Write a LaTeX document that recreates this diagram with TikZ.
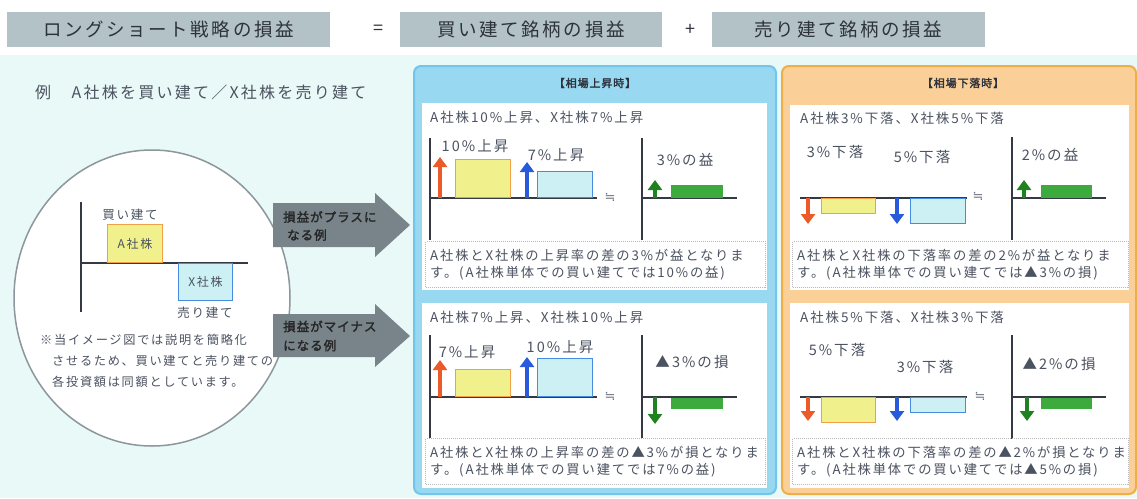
\documentclass[tikz,border=0pt]{standalone}
\usepackage{fontspec}
\setmainfont{Noto Sans CJK JP}[LetterSpace=14]
\newfontfamily\jpheavy{Noto Sans CJK JP}[LetterSpace=8,FakeBold=2]
\newfontfamily\symfont{DejaVu Sans}
\usetikzlibrary{arrows.meta,shapes.geometric}
\definecolor{ink}{RGB}{75,82,96}
\definecolor{headink}{RGB}{45,50,60}
\definecolor{headgray}{RGB}{178,194,198}
\definecolor{bgcyan}{RGB}{232,249,247}
\definecolor{lensgray}{RGB}{140,150,156}
\definecolor{blockgray}{RGB}{120,132,138}
\definecolor{blueline}{RGB}{115,198,235}
\definecolor{bluefill}{RGB}{152,216,240}
\definecolor{orangeline}{RGB}{240,175,70}
\definecolor{orangefill}{RGB}{250,207,152}
\definecolor{buyfill}{RGB}{240,240,140}
\definecolor{buyline}{RGB}{240,160,70}
\definecolor{sellfill}{RGB}{205,240,245}
\definecolor{sellline}{RGB}{70,140,225}
\definecolor{buyarrow}{RGB}{235,90,40}
\definecolor{sellarrow}{RGB}{40,90,220}
\definecolor{gainarrow}{RGB}{30,130,30}
\definecolor{gainfill}{RGB}{60,170,60}
\newcommand{\fsz}[2]{\fontsize{#1}{#2}\selectfont}
\tikzset{
  /tikz/.cd,
  bar/.style={minimum width=55pt,inner sep=0pt,line width=1pt},
  buybar/.style={bar,fill=buyfill,draw=buyline},
  sellbar/.style={bar,fill=sellfill,draw=sellline},
  gainbar/.style={bar,fill=gainfill,minimum width=52pt},
  movearrow/.style={line width=4.5pt,-{Triangle[width=14pt,length=10pt]}},
  axis/.style={draw=ink!70!black,line width=1.2pt},
  barlbl/.style={text=ink,inner sep=0pt,font=\fsz{14.5}{15}},
  subttl/.style={text=ink,inner sep=0pt,anchor=west,font=\fsz{13.5}{14}},
  notetxt/.style={text=ink,inner sep=0pt,anchor=west,align=left,font=\fsz{13.3}{17}},
  approx/.style={text=ink!80,font=\symfont\fsz{13}{13}}
}
\begin{document}
\begin{tikzpicture}[x=1pt,y=-1pt,
    headbox/.style={fill=headgray,minimum height=35pt,inner sep=0pt,text=headink,font=\fsz{18.5}{20}},
    sheet/.style={fill=white,anchor=north west,inner sep=0pt},
    notebox/.style={fill=white,draw=gray!55,densely dotted,line width=1pt,anchor=north west,inner sep=0pt}]
  \useasboundingbox (0,0) rectangle (1137,498);
  \fill[white] (0,0) rectangle (1137,55);
  \fill[bgcyan] (0,55) rectangle (1137,498);

  \node[headbox,minimum width=323pt] (hLS) at (168.5,29.5) {ロングショート戦略の損益};
  \node[text=headink,font=\fsz{18}{20}] (hEq) at (378,30) {=};
  \node[headbox,minimum width=262pt] (hBuy) at (531,29.5) {買い建て銘柄の損益};
  \node[text=headink,font=\fsz{18}{20}] (hPlus) at (690,30) {+};
  \node[headbox,minimum width=273pt] (hSell) at (848.5,29.5) {売り建て銘柄の損益};

  \node[text=ink,inner sep=0pt,anchor=west,font=\fsz{16}{18}] (exTtl) at (35,92) {例　A社株を買い建て／X社株を売り建て};

  \node[ellipse,draw=lensgray,line width=1.5pt,fill=white,minimum width=276pt,minimum height=296pt] (lens) at (152,298) {};
  \draw[axis] (81,202) -- (81,312);
  \draw[axis] (81,263) -- (248,263);
  \node[buybar,anchor=south west,minimum height=38pt,text=ink,font=\fsz{12}{12}] (aBox) at (107,263) {A社株};
  \node[sellbar,anchor=north west,minimum height=37pt,minimum width=54pt,text=ink,font=\fsz{12}{12}] (xBox) at (178,263) {X社株};
  \node[text=ink,inner sep=0pt,font=\fsz{12.5}{13}] (aLbl) at (130,215) {買い建て};
  \node[text=ink,inner sep=0pt,font=\fsz{12.5}{13}] (xLbl) at (205,313) {売り建て};
  \node[text=ink,inner sep=0pt,anchor=north west,align=left,font=\fsz{12.2}{21}] (lensNote) at (40,334)
    {※当イメージ図では説明を簡略化\\\hspace{12pt}させるため、買い建てと売り建ての\\\hspace{12pt}各投資額は同額としています。};

  \fill[blockgray] (273,203) -- (375,203) -- (375,193) -- (410,225) -- (375,257) -- (375,247) -- (273,247) -- cycle;
  \node[text=black!85,inner sep=0pt,anchor=west,align=left,font=\jpheavy\fsz{12.5}{18}] (plusTag) at (283,226) {損益がプラスに\\\hspace{4pt}なる例};
  \fill[blockgray] (273,314) -- (375,314) -- (375,304) -- (410,336) -- (375,367) -- (375,357) -- (273,357) -- cycle;
  \node[text=black!85,inner sep=0pt,anchor=west,align=left,font=\jpheavy\fsz{12.5}{19}] (minusTag) at (283,336) {損益がマイナス\\になる例};

  \node[draw=blueline,fill=bluefill,rounded corners=7pt,line width=2pt,minimum width=362pt,minimum height=428pt,anchor=north west] (upPanel) at (413,65) {};
  \node[text=headink,font=\jpheavy\fsz{11}{12}] (upTtl) at (595,83) {【相場上昇時】};
  \node[sheet,minimum width=345pt,minimum height=187pt] (upA) at (422,103) {};
  \node[sheet,minimum width=345pt,minimum height=185pt] (upB) at (422,303) {};

  \node[draw=orangeline,fill=orangefill,rounded corners=7pt,line width=2pt,minimum width=354pt,minimum height=428pt,anchor=north west] (downPanel) at (781,65) {};
  \node[text=headink,font=\jpheavy\fsz{11}{12}] (downTtl) at (963,83) {【相場下落時】};
  \node[sheet,minimum width=339pt,minimum height=185pt] (downA) at (790,105) {};
  \node[sheet,minimum width=339pt,minimum height=185pt] (downB) at (790,303) {};

  % 上昇時：A社株10%上昇、X社株7%上昇
  \node[subttl] (upAttl) at (430,117) {A社株10\%上昇、X社株7\%上昇};
  \draw[axis] (430,138) -- (430,240);
  \draw[axis] (430,198) -- (597,198);
  \draw[axis] (642,138) -- (642,240);
  \draw[axis] (642,198) -- (737,198);
  \node[buybar,anchor=south west,minimum height=38pt] (upAbuy) at (455,198) {};
  \node[sellbar,anchor=south west,minimum height=26pt] (upAsell) at (537,198) {};
  \node[gainbar,anchor=south west,minimum height=13pt] (upAnet) at (670,198) {};
  \coordinate (upAb0) at (440,198); \coordinate (upAb1) at (440,157);
  \coordinate (upAs0) at (527,198); \coordinate (upAs1) at (527,162);
  \coordinate (upAn0) at (655,198); \coordinate (upAn1) at (655,180);
  \draw[movearrow,buyarrow] (upAb0) -- (upAb1);
  \draw[movearrow,sellarrow] (upAs0) -- (upAs1);
  \draw[movearrow,gainarrow] (upAn0) -- (upAn1);
  \node[barlbl] (upAbuyL) at (475,146) {10\%上昇};
  \node[barlbl] (upAsellL) at (556,155) {7\%上昇};
  \node[barlbl] (upAnetL) at (685,160) {3\%の益};
  \node[approx] (upAeq) at (610,197) {≒};
  \node[notebox,minimum width=340pt,minimum height=46pt] (upAbox) at (425,241) {};
  \node[notetxt] (upAnote) at (430,265) {A社株とX社株の上昇率の差の3\%が益となりま\\す。(A社株単体での買い建てでは10\%の益)};

  % 上昇時：A社株7%上昇、X社株10%上昇
  \node[subttl] (upBttl) at (430,317) {A社株7\%上昇、X社株10\%上昇};
  \draw[axis] (430,335) -- (430,438);
  \draw[axis] (430,397) -- (597,397);
  \draw[axis] (642,335) -- (642,438);
  \draw[axis] (642,397) -- (737,397);
  \node[buybar,anchor=south west,minimum height=27pt] (upBbuy) at (455,397) {};
  \node[sellbar,anchor=south west,minimum height=38pt] (upBsell) at (537,397) {};
  \node[gainbar,anchor=north west,minimum height=11pt] (upBnet) at (670,397) {};
  \coordinate (upBb0) at (440,397); \coordinate (upBb1) at (440,360);
  \coordinate (upBs0) at (527,397); \coordinate (upBs1) at (527,357);
  \coordinate (upBn0) at (655,397); \coordinate (upBn1) at (655,424);
  \draw[movearrow,buyarrow] (upBb0) -- (upBb1);
  \draw[movearrow,sellarrow] (upBs0) -- (upBs1);
  \draw[movearrow,gainarrow] (upBn0) -- (upBn1);
  \node[barlbl] (upBbuyL) at (467,352) {7\%上昇};
  \node[barlbl] (upBsellL) at (560,347) {10\%上昇};
  \node[barlbl] (upBnetL) at (692,362) {▲3\%の損};
  \node[approx] (upBeq) at (610,396) {≒};
  \node[notebox,minimum width=340pt,minimum height=46pt] (upBbox) at (425,438) {};
  \node[notetxt] (upBnote) at (430,462) {A社株とX社株の上昇率の差の▲3\%が損となりま\\す。(A社株単体での買い建てでは7\%の益)};

  % 下落時：A社株3%下落、X社株5%下落
  \node[subttl] (downAttl) at (800,118) {A社株3\%下落、X社株5\%下落};
  \draw[axis] (800,198) -- (967,198);
  \draw[axis] (1012,137) -- (1012,240);
  \draw[axis] (1012,198) -- (1106,198);
  \node[buybar,anchor=north west,minimum height=15pt,minimum width=54pt] (downAbuy) at (821,198) {};
  \node[sellbar,anchor=north west,minimum height=25pt] (downAsell) at (910,198) {};
  \node[gainbar,anchor=south west,minimum height=13pt,minimum width=51pt] (downAnet) at (1040,198) {};
  \coordinate (downAb0) at (808,198); \coordinate (downAb1) at (808,224);
  \coordinate (downAs0) at (897,198); \coordinate (downAs1) at (897,224);
  \coordinate (downAn0) at (1024,198); \coordinate (downAn1) at (1024,180);
  \draw[movearrow,buyarrow] (downAb0) -- (downAb1);
  \draw[movearrow,sellarrow] (downAs0) -- (downAs1);
  \draw[movearrow,gainarrow] (downAn0) -- (downAn1);
  \node[barlbl] (downAbuyL) at (835,152) {3\%下落};
  \node[barlbl] (downAsellL) at (922,157) {5\%下落};
  \node[barlbl] (downAnetL) at (1050,155) {2\%の益};
  \node[approx] (downAeq) at (978,196) {≒};
  \node[notebox,minimum width=336pt,minimum height=46pt] (downAbox) at (792,241) {};
  \node[notetxt] (downAnote) at (797,265) {A社株とX社株の下落率の差の2\%が益となりま\\す。(A社株単体での買い建てでは▲3\%の損)};

  % 下落時：A社株5%下落、X社株3%下落
  \node[subttl] (downBttl) at (800,317) {A社株5\%下落、X社株3\%下落};
  \draw[axis] (800,397) -- (967,397);
  \draw[axis] (1012,335) -- (1012,440);
  \draw[axis] (1012,397) -- (1106,397);
  \node[buybar,anchor=north west,minimum height=25pt,minimum width=54pt] (downBbuy) at (821,397) {};
  \node[sellbar,anchor=north west,minimum height=15pt] (downBsell) at (910,397) {};
  \node[gainbar,anchor=north west,minimum height=11pt,minimum width=51pt] (downBnet) at (1040,397) {};
  \coordinate (downBb0) at (808,397); \coordinate (downBb1) at (808,421);
  \coordinate (downBs0) at (897,397); \coordinate (downBs1) at (897,421);
  \coordinate (downBn0) at (1027,397); \coordinate (downBn1) at (1027,421);
  \draw[movearrow,buyarrow] (downBb0) -- (downBb1);
  \draw[movearrow,sellarrow] (downBs0) -- (downBs1);
  \draw[movearrow,gainarrow] (downBn0) -- (downBn1);
  \node[barlbl] (downBbuyL) at (837,350) {5\%下落};
  \node[barlbl] (downBsellL) at (925,367) {3\%下落};
  \node[barlbl] (downBnetL) at (1059,364) {▲2\%の損};
  \node[approx] (downBeq) at (980,396) {≒};
  \node[notebox,minimum width=336pt,minimum height=46pt] (downBbox) at (792,438) {};
  \node[notetxt] (downBnote) at (797,462) {A社株とX社株の下落率の差の▲2\%が損となりま\\す。(A社株単体での買い建てでは▲5\%の損)};
\end{tikzpicture}
\end{document}
